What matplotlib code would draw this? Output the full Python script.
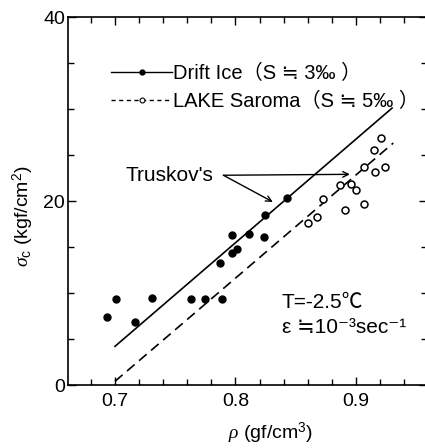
import matplotlib
matplotlib.use("Agg")
import matplotlib.pyplot as plt
from matplotlib.lines import Line2D
from matplotlib.ticker import MultipleLocator

# ---- data ----
drift_rho = [0.693, 0.701, 0.717, 0.731, 0.763, 0.775, 0.789, 0.787, 0.797, 0.801,
             0.797, 0.811, 0.824, 0.8245, 0.843]
drift_sig = [7.4, 9.4, 6.8, 9.5, 9.3, 9.3, 9.3, 13.3, 14.3, 14.8,
             16.3, 16.4, 16.1, 18.5, 20.3]

saroma_rho = [0.921, 0.915, 0.907, 0.916, 0.924, 0.887, 0.896, 0.900, 0.873, 0.891,
              0.907, 0.868, 0.860]
saroma_sig = [26.9, 25.5, 23.7, 23.2, 23.7, 21.7, 21.8, 21.2, 20.2, 19.0,
              19.7, 18.3, 17.6]

drift_line_rho = [0.700, 0.930]
drift_line_sig = [4.2, 30.1]
saroma_line_rho = [0.700, 0.931]
saroma_line_sig = [0.4, 26.3]

xticks = [0.7, 0.8, 0.9]
yticks = [0, 20, 40]
labels = ["Drift Ice（S ≒ 3‰ ）", "LAKE Saroma（S ≒ 5‰ ）"]

FAM = ["Liberation Sans", "Noto Sans CJK JP", "DejaVu Sans"]
plt.rcParams["font.family"] = FAM
plt.rcParams["mathtext.fontset"] = "custom"
plt.rcParams["mathtext.rm"] = "Liberation Sans"
plt.rcParams["mathtext.it"] = "Liberation Serif:italic"

fig = plt.figure(figsize=(4.25, 4.48), dpi=100)
ax = fig.add_axes([68 / 425, 63 / 448, 359 / 425, 368 / 448])

ax.plot(drift_line_rho, drift_line_sig, color="black", lw=1.2)
ax.plot(saroma_line_rho, saroma_line_sig, color="black", lw=1.2,
        linestyle=(0, (6, 3.5)))
ax.plot(drift_rho, drift_sig, linestyle="none", marker="o", ms=5,
        mfc="black", mec="black")
ax.plot(saroma_rho, saroma_sig, linestyle="none", marker="o", ms=5,
        mfc="white", mec="black", mew=1.1)

ax.set_xlim(0.661, 0.959)
ax.set_ylim(0, 40)
ax.set_xticks(xticks)
ax.set_xticklabels([f"{v:.1f}" for v in xticks])
ax.set_yticks(yticks)
ax.xaxis.set_minor_locator(MultipleLocator(0.02))
ax.yaxis.set_minor_locator(MultipleLocator(5))
ax.tick_params(which="both", direction="in", top=True, right=True,
               labelsize=14, width=1.0)
ax.tick_params(which="major", length=6)
ax.tick_params(which="minor", length=4)
ax.tick_params(axis="y", pad=2)
ax.tick_params(axis="x", pad=6)
for s in ax.spines.values():
    s.set_linewidth(1.2)

ax.set_ylabel(r"$\sigma_{\rm c}$ (kgf/cm$^2$)", fontsize=14)
ax.yaxis.set_label_coords(-0.09, 0.46)
ax.set_xlabel(r"$\rho$ (gf/cm$^3$)", fontsize=14)
ax.xaxis.set_label_coords(0.565, -0.098)

handles = [
    Line2D([], [], color="black", lw=1.0, marker="o", ms=3.5, mfc="black"),
    Line2D([], [], color="black", lw=1.0, linestyle=(0, (3, 2.5)), marker="o",
           ms=3.5, mfc="white", mew=0.8),
]
ax.legend(handles, labels, loc="upper left", bbox_to_anchor=(0.121, 0.872),
          frameon=False, fontsize=14.5, handlelength=3.0, handletextpad=0.05,
          labelspacing=0.42, borderaxespad=0, borderpad=0)

ax.text(0.782, 22.8, "Truskov's", ha="right", va="center", fontsize=15)
ax.annotate("", xy=(0.895, 22.9), xytext=(0.790, 22.8),
            arrowprops=dict(arrowstyle="->", lw=1.0, color="black",
                            shrinkA=0, shrinkB=0))
ax.annotate("", xy=(0.831, 19.9), xytext=(0.790, 22.8),
            arrowprops=dict(arrowstyle="->", lw=1.0, color="black",
                            shrinkA=0, shrinkB=0))

ax.text(0.8385, 9.0, "T=-2.5℃", fontsize=15, ha="left", va="center")
ax.text(0.8385, 6.2, "ε ≒10⁻³sec⁻¹", fontsize=15, ha="left", va="center")

fig.savefig("out.png", dpi=100)
